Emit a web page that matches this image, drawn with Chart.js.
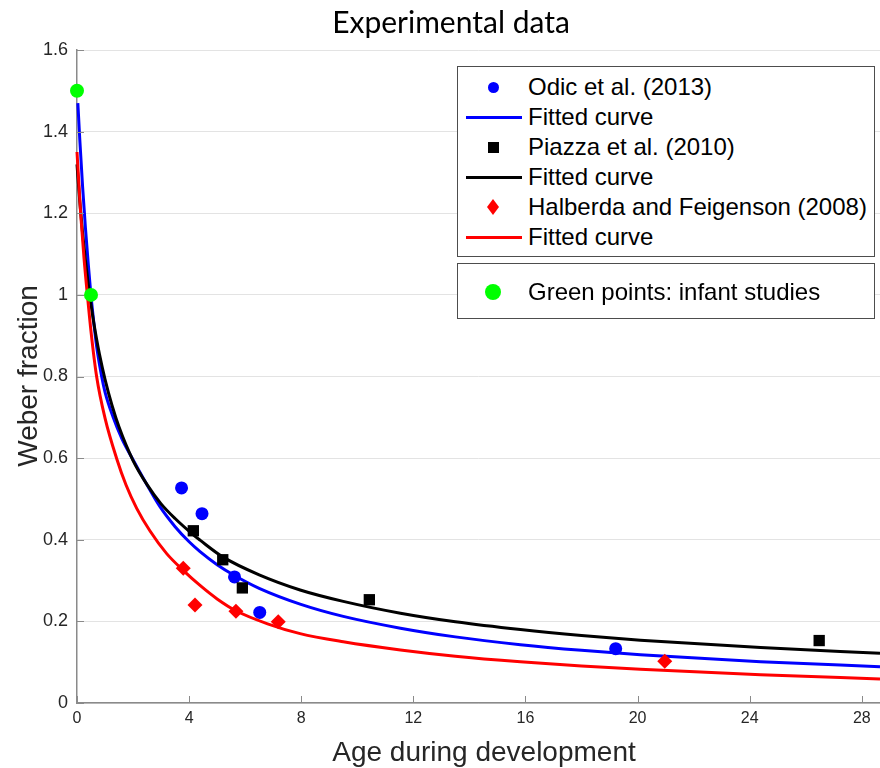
<!DOCTYPE html>
<html><head><meta charset="utf-8">
<script src="https://cdn.jsdelivr.net/npm/chart.js@4.4.0/dist/chart.umd.min.js"></script>
<style>
html,body{margin:0;padding:0;background:#fff;}
#wrap{position:relative;width:880px;height:768px;overflow:hidden;}
#c{position:absolute;left:0;top:0;}
.lg{position:absolute;border:1px solid #4d4d4d;background:#fff;box-sizing:border-box;font-family:"Liberation Sans",Arial,sans-serif;color:#000;}
.row{position:absolute;left:0;width:100%;height:30px;}
.txt{position:absolute;left:70px;top:0;line-height:30px;font-size:24px;white-space:nowrap;}
.ln{position:absolute;left:8px;top:13.5px;width:56px;height:3px;}
.mk{position:absolute;}
#title{position:absolute;left:251px;width:400px;top:3px;height:36px;line-height:36px;text-align:center;font-family:Lato,"Noto Sans",sans-serif;font-size:30px;color:#000;white-space:nowrap;}
#xtitle{position:absolute;left:284px;width:400px;top:738px;height:28px;line-height:28px;text-align:center;font-family:"Liberation Sans",Arial,sans-serif;font-size:28px;color:#262626;white-space:nowrap;}
#ytitle{position:absolute;left:-172px;width:400px;top:362px;height:28px;line-height:28px;text-align:center;font-family:"Liberation Sans",Arial,sans-serif;font-size:28px;color:#262626;white-space:nowrap;transform:rotate(-90deg);transform-origin:50% 50%;}
</style>
</head><body>
<div id="wrap">
<canvas id="c" width="880" height="768"></canvas>
<div id="title"></div>
<div id="xtitle"></div>
<div id="ytitle"></div>
<div class="lg" id="lg1" style="left:457px;top:66px;width:418px;height:191px;"></div>
<div class="lg" id="lg2" style="left:457px;top:263px;width:418px;height:56px;"></div>
</div>
<script>
// ---- data ----
const odicX = [3.73, 4.46, 5.62, 6.52, 19.22];
const odicY = [0.527, 0.464, 0.309, 0.222, 0.133];
const piazzaX = [4.15, 5.20, 5.90, 10.43, 26.48];
const piazzaY = [0.422, 0.351, 0.282, 0.253, 0.153];
const halberdaX = [3.79, 4.21, 5.67, 7.18, 20.97];
const halberdaY = [0.330, 0.240, 0.225, 0.199, 0.102];
const infantX = [0, 0.5];
const infantY = [1.5, 1.0];

// fitted curves, sampled (estimated) from the picture
const blueFitX = [0.03, 0.1, 0.2, 0.3, 0.4, 0.49, 0.6, 0.7, 0.88, 1.0, 1.28, 1.6, 1.95, 2.42, 2.96, 3.5, 4.0, 4.39, 5.0, 5.62, 6.5, 7.96, 9.5, 11.54, 13.5, 15.82, 18, 20.1, 24.39, 28.65];
const blueFitY = [1.47, 1.38, 1.265, 1.165, 1.077, 1.005, 0.932, 0.874, 0.80, 0.762, 0.702, 0.648, 0.602, 0.544, 0.481, 0.432, 0.395, 0.371, 0.339, 0.3125, 0.281, 0.2424, 0.2123, 0.1834, 0.162, 0.143, 0.129, 0.118, 0.101, 0.089];
const blackFitX = [0, 0.1, 0.2, 0.3, 0.4, 0.5, 0.6, 0.7, 0.8, 1.0, 1.25, 1.5, 2.0, 2.5, 3.0, 3.5, 4.15, 4.39, 5.2, 6.5, 7.96, 9.5, 11.54, 13.5, 15.82, 18, 20.1, 24.39, 28.65];
const blackFitY = [1.32, 1.228, 1.151, 1.085, 1.027, 0.976, 0.931, 0.891, 0.855, 0.793, 0.729, 0.676, 0.594, 0.535, 0.488, 0.452, 0.412, 0.399, 0.358, 0.314, 0.277, 0.249, 0.220, 0.199, 0.180, 0.1655, 0.154, 0.1357, 0.122];
const redFitX = [0, 0.06, 0.13, 0.25, 0.37, 0.5, 0.7, 1.0, 1.42, 1.75, 2.13, 2.6, 3.2, 3.79, 4.39, 5.0, 5.67, 6.8, 7.96, 9.5, 11.54, 13.5, 15.82, 18, 20.1, 24.39, 28.65];
const redFitY = [1.35, 1.28, 1.20, 1.09, 1.00, 0.91, 0.80, 0.698, 0.598, 0.534, 0.477, 0.422, 0.366, 0.325, 0.288, 0.255, 0.226, 0.194, 0.170, 0.150, 0.130, 0.1147, 0.101, 0.0907, 0.0826, 0.069, 0.059];

const xTickStep = 4;
const yTickStep = 0.2;
const titleText = 'Experimental data';
const xTitle = 'Age during development';
const yTitle = 'Weber fraction';
const legendLabels = ['Odic et al. (2013)', 'Fitted curve', 'Piazza et al. (2010)', 'Fitted curve', 'Halberda and Feigenson (2008)', 'Fitted curve'];
const infantLabel = 'Green points: infant studies';

document.getElementById('title').textContent = titleText;
document.getElementById('xtitle').textContent = xTitle;
document.getElementById('ytitle').textContent = yTitle;

const pts = (xs, ys) => xs.map((x, i) => ({x: x, y: ys[i]}));
const fitStyle = c => ({showLine: true, borderColor: c, borderWidth: 3, pointRadius: 0, pointHoverRadius: 0, fill: false, cubicInterpolationMode: 'monotone', clip: false});

const datasets = [
  {label: infantLabel, data: pts(infantX, infantY), pointStyle: 'circle', pointRadius: 7, backgroundColor: '#00ff00', borderColor: '#00ff00', borderWidth: 0, clip: false},
  Object.assign({label: 'Fitted curve (Halberda)', data: pts(redFitX, redFitY)}, fitStyle('#ff0000')),
  {label: legendLabels[4], data: pts(halberdaX, halberdaY), pointStyle: 'rectRot', pointRadius: 7.5, backgroundColor: '#ff0000', borderColor: '#ff0000', borderWidth: 0, clip: false},
  Object.assign({label: 'Fitted curve (Piazza)', data: pts(blackFitX, blackFitY)}, fitStyle('#000000')),
  {label: legendLabels[2], data: pts(piazzaX, piazzaY), pointStyle: 'rect', pointRadius: 8, backgroundColor: '#000000', borderColor: '#000000', borderWidth: 0, clip: false},
  Object.assign({label: 'Fitted curve (Odic)', data: pts(blueFitX, blueFitY)}, fitStyle('#0000ff')),
  {label: legendLabels[0], data: pts(odicX, odicY), pointStyle: 'circle', pointRadius: 6.5, backgroundColor: '#0000ff', borderColor: '#0000ff', borderWidth: 0, clip: false}
];

const AXIS_COLOR = '#8a8a8a';
const inwardTicks = {
  id: 'inwardTicks',
  afterDraw(chart) {
    const {ctx, chartArea, scales} = chart;
    ctx.save();
    ctx.strokeStyle = AXIS_COLOR;
    ctx.lineWidth = 1;
    scales.x.ticks.forEach(t => {
      const px = Math.round(scales.x.getPixelForValue(t.value)) + 0.5;
      ctx.beginPath(); ctx.moveTo(px, chartArea.bottom); ctx.lineTo(px, chartArea.bottom - 7); ctx.stroke();
    });
    scales.y.ticks.forEach(t => {
      const py = Math.round(scales.y.getPixelForValue(t.value)) + 0.5;
      ctx.beginPath(); ctx.moveTo(chartArea.left, py); ctx.lineTo(chartArea.left + 7, py); ctx.stroke();
    });
    ctx.restore();
  }
};

new Chart(document.getElementById('c'), {
  type: 'scatter',
  data: {datasets: datasets},
  options: {
    responsive: false,
    animation: false,
    events: [],
    layout: {autoPadding: false, padding: {left: 0, right: 0, top: 50, bottom: 0}},
    plugins: {
      legend: {display: false},
      tooltip: {enabled: false},
      title: {display: false}
    },
    scales: {
      x: {
        type: 'linear', min: 0, max: 28.65,
        afterFit: s => { s.height = 65; s.paddingLeft = 0; s.paddingRight = 0; },
        grid: {display: false, drawTicks: false},
        border: {display: true, color: AXIS_COLOR, width: 1.5},
        ticks: {stepSize: xTickStep, includeBounds: false, padding: 6, color: '#262626', font: {family: 'Liberation Sans', size: 16}, maxRotation: 0}
      },
      y: {
        type: 'linear', min: 0, max: 1.6,
        afterFit: s => { s.width = 77; s.paddingTop = 0; s.paddingBottom = 0; },
        grid: {display: true, color: '#e3e3e3', lineWidth: 1, drawTicks: false},
        border: {display: true, color: AXIS_COLOR, width: 1.5},
        ticks: {stepSize: yTickStep, padding: 9, color: '#262626', font: {family: 'Liberation Sans', size: 18},
          callback: v => String(parseFloat(Number(v).toFixed(1)))}
      }
    }
  },
  plugins: [inwardTicks]
});

// ---- legend boxes (DOM text) ----
const legendKinds = [
  {type: 'marker', shape: 'circle', color: '#0000ff'},
  {type: 'line', color: '#0000ff'},
  {type: 'marker', shape: 'square', color: '#000000'},
  {type: 'line', color: '#000000'},
  {type: 'marker', shape: 'diamond', color: '#ff0000'},
  {type: 'line', color: '#ff0000'}
];
function markerEl(shape, color) {
  const m = document.createElement('div');
  m.className = 'mk';
  m.style.background = color;
  if (shape === 'circle') { m.style.width = '11px'; m.style.height = '11px'; m.style.borderRadius = '50%'; m.style.left = '29.5px'; m.style.top = '9.5px'; }
  if (shape === 'bigcircle') { m.style.width = '16px'; m.style.height = '16px'; m.style.borderRadius = '50%'; m.style.left = '27px'; m.style.top = '7px'; }
  if (shape === 'square') { m.style.width = '11px'; m.style.height = '11px'; m.style.left = '29.5px'; m.style.top = '9.5px'; }
  if (shape === 'diamond') { m.style.width = '12px'; m.style.height = '16px'; m.style.left = '29px'; m.style.top = '7px'; m.style.clipPath = 'polygon(50% 0,100% 50%,50% 100%,0 50%)'; }
  return m;
}
const lg1 = document.getElementById('lg1');
legendLabels.forEach((lab, i) => {
  const r = document.createElement('div');
  r.className = 'row';
  r.style.top = (5 + i * 30) + 'px';
  const k = legendKinds[i];
  if (k.type === 'line') { const l = document.createElement('div'); l.className = 'ln'; l.style.background = k.color; r.appendChild(l); }
  else r.appendChild(markerEl(k.shape, k.color));
  const t = document.createElement('div'); t.className = 'txt'; t.textContent = lab; r.appendChild(t);
  lg1.appendChild(r);
});
const lg2 = document.getElementById('lg2');
{
  const r = document.createElement('div');
  r.className = 'row'; r.style.top = '13px';
  r.appendChild(markerEl('bigcircle', '#00ff00'));
  const t = document.createElement('div'); t.className = 'txt'; t.textContent = infantLabel; r.appendChild(t);
  lg2.appendChild(r);
}
</script>
</body></html>
